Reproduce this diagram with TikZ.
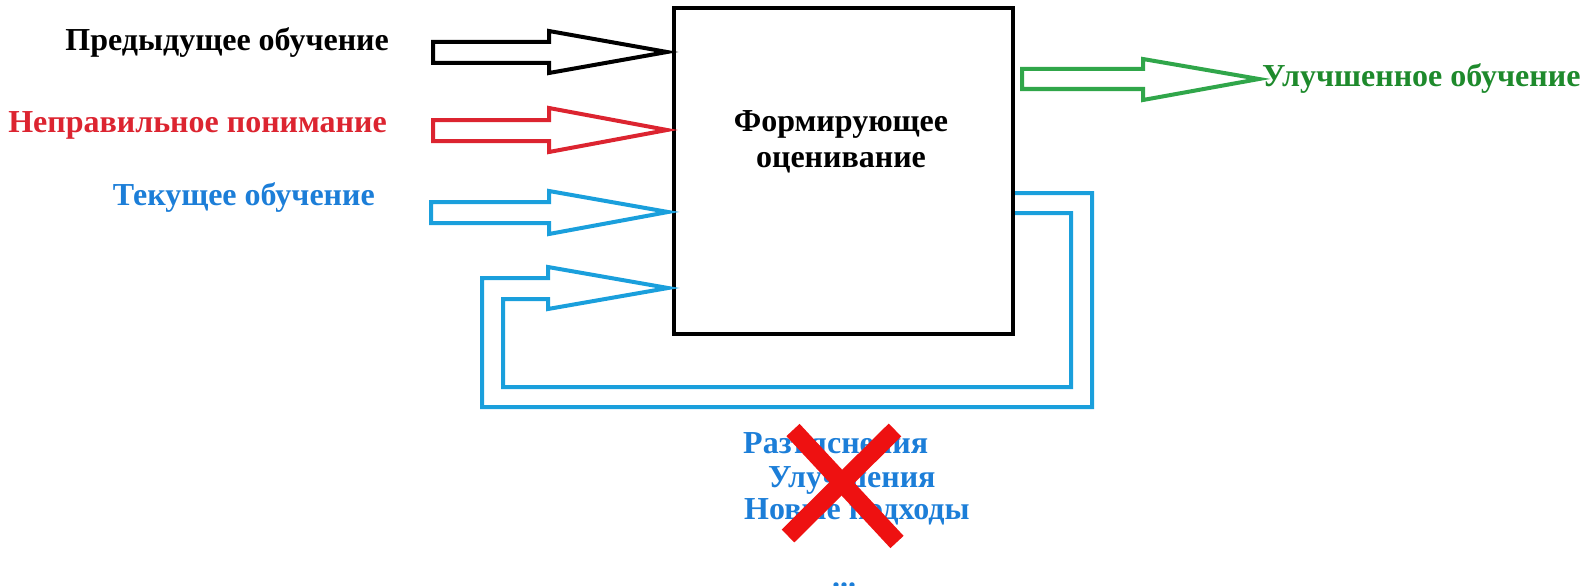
\documentclass[tikz,border=0pt]{standalone}
\usepackage{fontspec}
\setmainfont{Liberation Serif}
\definecolor{inkred}{HTML}{DC2430}
\definecolor{inkblue}{HTML}{1A9FDC}
\definecolor{textblue}{HTML}{1C7ED8}
\definecolor{inkgreen}{HTML}{30A64A}
\definecolor{textgreen}{HTML}{1E8A2C}
\definecolor{crossred}{HTML}{EE1111}
\tikzset{
  lbl/.style={inner sep=0pt, font=\fontsize{32}{36}\selectfont\bfseries},
  outline/.style={line width=4pt, line join=miter},
  crossbar/.style={line width=18pt, crossred},
}
\begin{document}
\begin{tikzpicture}[x=1pt, y=-1pt]
  \useasboundingbox (0,0) rectangle (1596,586);
  \clip (0,0) rectangle (1596,586);

  % central block
  \node (box) [draw, line width=4pt, minimum width=339pt, minimum height=326pt,
               inner sep=0pt] at (843.5,171) {};
  \node (boxtxt) [lbl, align=center, anchor=base] at (841,167)
        {Формирующее\\оценивание};

  % input labels
  \node (prev)  [lbl, anchor=base east] at (389,51)  {Предыдущее обучение};
  \node (wrong) [lbl, anchor=base east, text=inkred] at (387,132) {Неправильное понимание};
  \node (cur)   [lbl, anchor=base east, text=textblue] at (375,205) {Текущее обучение};
  \node (better)[lbl, anchor=base west, text=textgreen] at (1262,86) {Улучшенное обучение};

  % tips of the hollow arrows on the block
  \coordinate (tipA) at (667,52);
  \coordinate (tipB) at (667,130);
  \coordinate (tipC) at (668,212);
  \coordinate (tipD) at (668,288);
  \coordinate (tipE) at (1259,79);

  % hollow input arrows
  \draw[outline] (433,42) -- (549,42) -- (549,31) -- (tipA) -- (549,73) -- (549,63) -- (433,63) -- cycle;
  \draw[outline, inkred] (433,120) -- (549,120) -- (549,108) -- (tipB) -- (549,152) -- (549,141) -- (433,141) -- cycle;
  \draw[outline, inkblue] (431,202) -- (549,202) -- (549,191) -- (tipC) -- (549,234) -- (549,223) -- (431,223) -- cycle;

  % hollow output arrow
  \draw[outline, inkgreen] (1022,69) -- (1143,69) -- (1143,59) -- (tipE) -- (1143,100) -- (1143,89) -- (1022,89) -- cycle;

  % hollow feedback loop from the right side back to the left side
  \coordinate (loopout) at (box.east |- 0,193);
  \coordinate (loopin)  at (box.east |- 0,213);
  \draw[outline, inkblue] (loopout) -- (1092,193) -- (1092,407) -- (482,407) -- (482,278)
        -- (548,278) -- (548,267) -- (tipD) -- (548,309) -- (548,299) -- (503,299)
        -- (503,387) -- (1071,387) -- (1071,213) -- (loopin);

  % rejected list
  \node (r1) [lbl, anchor=base west, text=textblue] at (743,453) {Разъяснения};
  \node (r2) [lbl, anchor=base west, text=textblue] at (768,487) {Улучшения};
  \node (r3) [lbl, anchor=base west, text=textblue] at (744,519) {Новые подходы};
  \node (r4) [lbl, anchor=base, text=textblue] at (844,587) {...};

  % red cross over the list
  \coordinate (xa) at (793,430);
  \coordinate (xb) at (897,542);
  \coordinate (xc) at (895,430);
  \coordinate (xd) at (788,536);
  \draw[crossbar] (xa) -- (xb);
  \draw[crossbar] (xc) -- (xd);
\end{tikzpicture}
\end{document}
